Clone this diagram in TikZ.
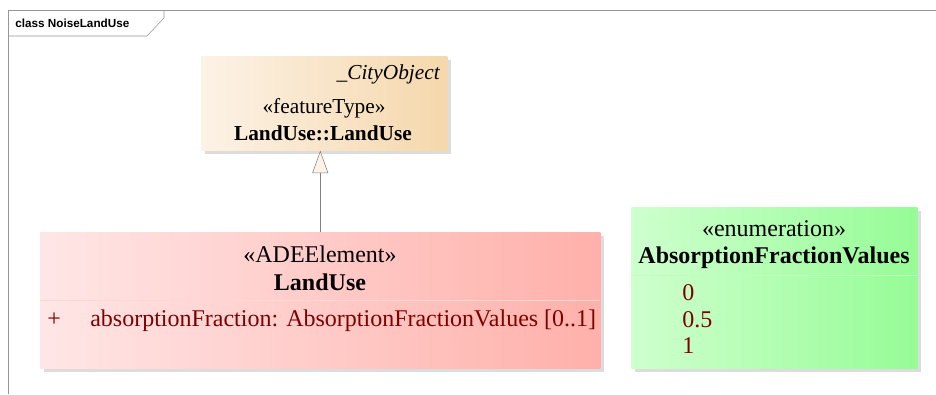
\documentclass[tikz,border=0pt]{standalone}
\usepackage{fontspec}
\setmainfont{Liberation Serif}
\newfontfamily\framefont{Liberation Sans}
\usetikzlibrary{arrows.meta, positioning, shadows}

\definecolor{frameGray}{RGB}{150,150,150}
\definecolor{shadowGray}{RGB}{220,220,220}
\definecolor{featLeft}{RGB}{252,242,230}
\definecolor{featRight}{RGB}{245,216,172}
\definecolor{adeLeft}{RGB}{255,230,230}
\definecolor{adeRight}{RGB}{255,176,170}
\definecolor{enumLeft}{RGB}{206,255,206}
\definecolor{enumRight}{RGB}{150,252,150}
\definecolor{attrRed}{RGB}{128,0,0}

\begin{document}
\begin{tikzpicture}[
  x=0.75pt, y=-0.75pt,
  umlclass/.style={rectangle, anchor=north west, inner sep=0pt, draw=none,
    drop shadow={shadow xshift=3pt, shadow yshift=-3pt, fill=shadowGray, opacity=1}},
  stereo/.style={anchor=base, inner sep=0pt, font=\fontsize{18}{22}\selectfont},
  cname/.style={anchor=base, inner sep=0pt, font=\fontsize{18}{22}\selectfont\bfseries},
  attr/.style={anchor=base west, inner sep=0pt, text=attrRed, font=\fontsize{18}{22}\selectfont},
  >={Triangle[open, length=17pt, width=12pt, fill=featLeft]}
]
\useasboundingbox (0,0) rectangle (936,394);

% frame
\draw[frameGray] (8,394) -- (8,10) -- (936,10);
\draw[frameGray] (8,36) -- (147,36) -- (164,18) -- (164,10);
\node[anchor=base west, inner sep=0pt, font=\framefont\fontsize{8.8}{11}\selectfont\bfseries] (frameTitle) at (15,27) {class NoiseLandUse};

% classes
\node[umlclass, left color=featLeft, right color=featRight,
  minimum width=184.5pt, minimum height=70.5pt] (CityObj) at (201,56) {};
\node[umlclass, left color=adeLeft, right color=adeRight,
  minimum width=420pt, minimum height=102pt] (LandUse) at (40,232) {};
\node[umlclass, left color=enumLeft, right color=enumRight,
  minimum width=214.5pt, minimum height=120.75pt] (FracValues) at (631,207) {};

% CityObject texts
\node[anchor=base east, inner sep=0pt, font=\fontsize{16}{19}\selectfont\itshape] (cityName) at (440,79) {\_CityObject};
\node[anchor=base, inner sep=0pt, font=\fontsize{16}{19}\selectfont] (cityStereo) at (324,113) {«featureType»};
\node[anchor=base, inner sep=0pt, font=\fontsize{16}{19}\selectfont\bfseries] (cityLabel) at (323,140) {LandUse::LandUse};

% LandUse texts
\node[stereo] (luStereo) at (320,262) {«ADEElement»};
\node[cname] (luName) at (320,290) {LandUse};
\draw[adeRight!30!adeLeft] (40,300) -- (600,300);
\node[attr] (luPlus) at (47,326) {+};
\node[attr] (luAttr) at (90,326) {absorptionFraction: AbsorptionFractionValues [0..1]};

% enumeration texts
\node[stereo] (enStereo) at (774,236) {«enumeration»};
\node[cname] (enName) at (774,263) {AbsorptionFractionValues};
\draw[enumRight!30!enumLeft] (631,275) -- (917,275);
\node[attr] (litA) at (682,300) {0};
\node[attr] (litB) at (682,327) {0.5};
\node[attr] (litC) at (682,353) {1};

% generalization
\draw[->, draw=gray] (LandUse.north) -- (LandUse.north |- CityObj.south);
\end{tikzpicture}
\end{document}
